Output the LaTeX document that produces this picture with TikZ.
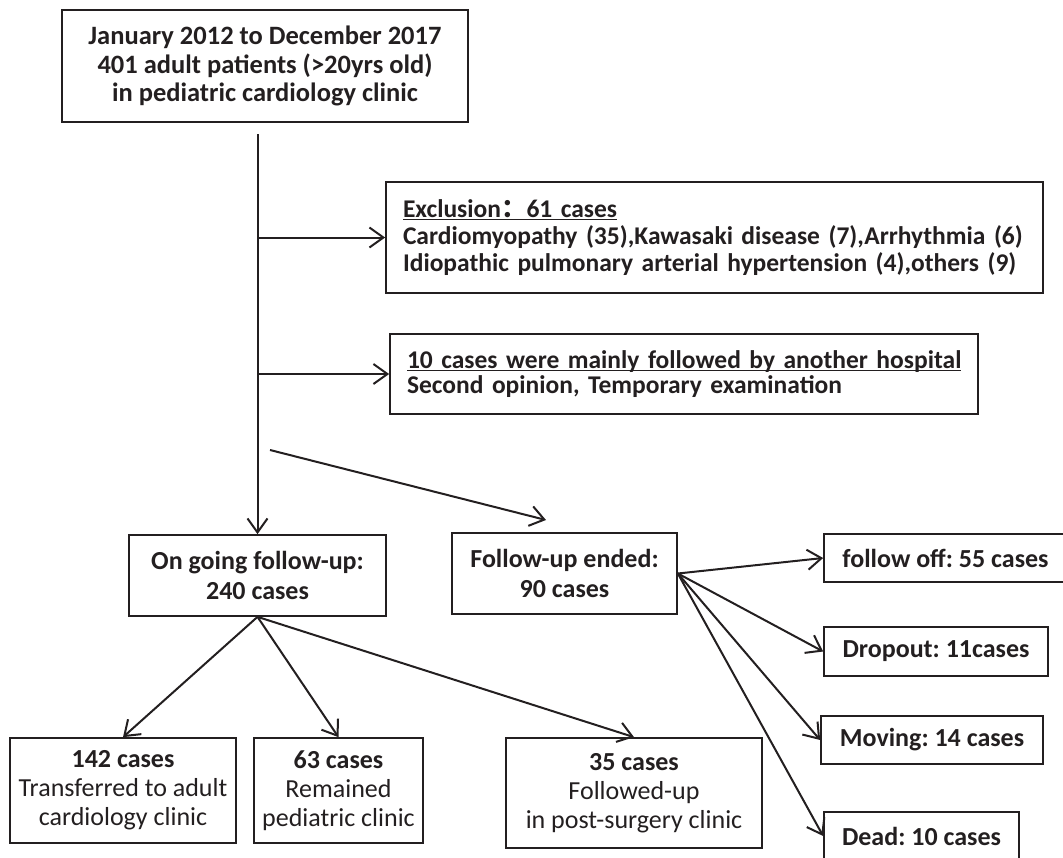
\documentclass[tikz,border=0pt]{standalone}
\usepackage{fontspec}
\setmainfont{Carlito}
\newfontfamily\cjk{Noto Sans CJK SC}
\usetikzlibrary{arrows.meta}
\newcommand\myul[1]{\leavevmode\setbox0\hbox{#1}\rlap{\rule[-3pt]{\wd0}{1.3pt}}\box0}
\definecolor{ink}{RGB}{35,31,32}
\frenchspacing
\begin{document}
\begin{tikzpicture}[x=1pt,y=-1pt,
  box/.style={draw=ink, line width=1.7pt, rectangle, inner sep=0pt, text=ink,
    font=\fontsize{26}{27}\selectfont, align=center},
  lbox/.style={box, align=left, inner xsep=17pt},
  conn/.style={line width=2pt, draw=ink, -{Straight Barb[length=14pt,width=20pt,line width=2pt]}}]
\useasboundingbox (0,0) rectangle (1063,857);

% top
\node[box, minimum width=406, minimum height=112, font=\fontsize{26.5}{28.5}\selectfont\bfseries] (top) at (265,66)
  {January 2012 to December 2017\\401 adult patients (>20yrs old)\\in pediatric cardiology clinic};

% exclusion boxes
\node[lbox, text width=623, minimum height=111, font=\fontsize{25.5}{27}\selectfont\bfseries] (excl) at (714.5,237.5)
  {\myul{Exclusion{\cjk ：}61 cases}\\\mbox{Cardiomyopathy (35),Kawasaki disease (7),Arrhythmia (6)}\\\mbox{Idiopathic pulmonary arterial hypertension (4),others (9)}};
\node[lbox, text width=554, minimum height=80, font=\fontsize{25.5}{25.5}\selectfont\bfseries] (other) at (684,374)
  {\myul{10 cases were mainly followed by another hospital}\\\mbox{Second opinion, Temporary examination}};

% middle
\node[box, minimum width=257, minimum height=81, font=\fontsize{26}{30}\selectfont\bfseries] (ongo) at (257.5,575.5)
  {On going follow-up:\\240 cases};
\node[box, minimum width=225, minimum height=81, font=\fontsize{26}{30}\selectfont\bfseries] (ended) at (564.5,573.5)
  {Follow-up ended:\\90 cases};

% right column
\node[box, minimum width=243, minimum height=48, font=\fontsize{26}{27}\selectfont\bfseries] (foff) at (945.5,558) {follow off: 55 cases};
\node[box, minimum width=224, minimum height=49, font=\fontsize{26}{27}\selectfont\bfseries] (drop) at (936,651.5) {Dropout: 11cases};
\node[box, minimum width=222, minimum height=48, font=\fontsize{26}{27}\selectfont\bfseries] (move) at (932,740) {Moving: 14 cases};
\node[box, minimum width=195, minimum height=48, font=\fontsize{26}{27}\selectfont\bfseries] (dead) at (921.5,836) {Dead: 10 cases};

% bottom row
\node[box, minimum width=226, minimum height=105, font=\fontsize{26}{29}\selectfont] (b1) at (123,790.5)
  {\textbf{142 cases}\\Transferred to adult\\cardiology clinic};
\node[box, minimum width=169, minimum height=105, font=\fontsize{26}{29}\selectfont] (b2) at (338.5,790.5)
  {\textbf{63 cases}\\Remained\\pediatric clinic};
\node[box, minimum width=256, minimum height=110, font=\fontsize{26}{29}\selectfont] (b3) at (634,793)
  {\textbf{35 cases}\\Followed-up\\in post-surgery clinic};

% connectors
\coordinate (s0) at (257.5,134);
\coordinate (s1) at (257.5,237.5);
\coordinate (s2) at (257.5,374);
\coordinate (d0) at (270,450);
\coordinate (d1) at (546,520);
\draw[conn] (s0) -- (ongo.north);
\draw[conn] (s1) -- (excl.west);
\draw[conn] (s2) -- (other.west);
\draw[conn] (d0) -- (d1);
\draw[conn] (ended.east) -- (foff.west);
\draw[conn] (ended.east) -- (drop.west);
\draw[conn] (ended.east) -- (move.west);
\draw[conn] (ended.east) -- (dead.west);
\draw[conn] (ongo.south) -- (b1.north);
\draw[conn] (ongo.south) -- (b2.north);
\draw[conn] (ongo.south) -- (b3.north);
\end{tikzpicture}
\end{document}
